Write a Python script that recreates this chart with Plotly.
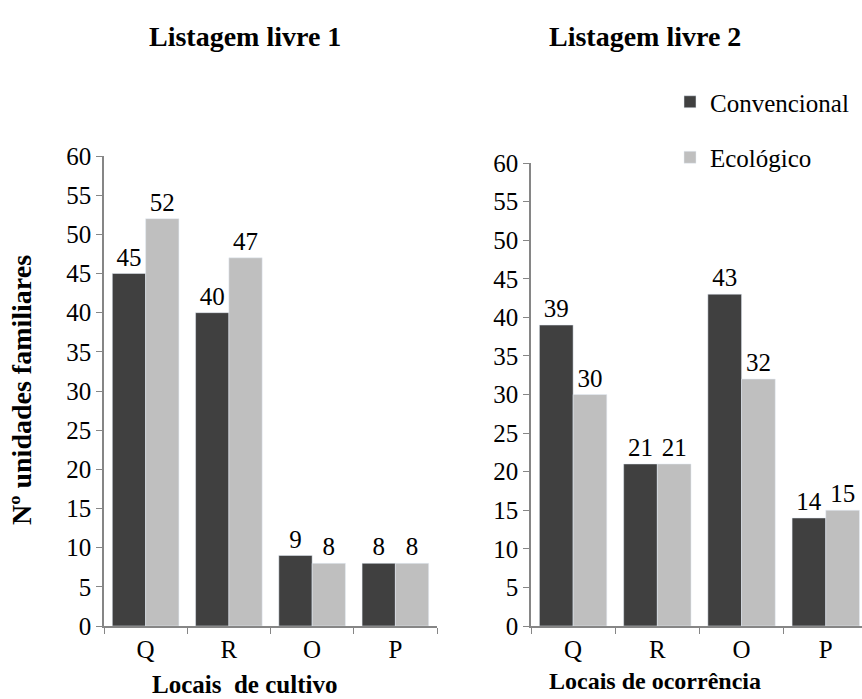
import plotly.graph_objects as go

categories = ["Q", "R", "O", "P"]
conv1 = [45, 40, 9, 8]
eco1 = [52, 47, 8, 8]
conv2 = [39, 21, 43, 14]
eco2 = [30, 21, 32, 15]
y_ticks = list(range(0, 61, 5))

DARK = "#404040"
LIGHT = "#BFBFBF"
AXIS = "#868686"
FONT = "Liberation Serif, Times New Roman, serif"
FS = 25

W, H = 862, 699

def px_x(p):
    return p / W

def px_y(p):
    return 1 - p / H

fig = go.Figure()

def add_bars(vals, name, color, xa, ya, show):
    fig.add_trace(go.Bar(
        x=categories, y=vals, name=name, marker_color=color,
        text=[str(v) for v in vals], textposition="outside",
        textfont=dict(family=FONT, size=FS, color="black"),
        cliponaxis=False, xaxis=xa, yaxis=ya, showlegend=show,
        legendgroup=name,
    ))

add_bars(conv1, "Convencional", DARK, "x", "y", True)
add_bars(eco1, "Ecológico", LIGHT, "x", "y", True)
add_bars(conv2, "Convencional", DARK, "x2", "y2", False)
add_bars(eco2, "Ecológico", LIGHT, "x2", "y2", False)

xcommon = dict(type="category", showline=True, linecolor=AXIS, linewidth=1.5,
               ticks="outside", tickson="boundaries", ticklen=6, tickcolor=AXIS,
               tickfont=dict(family=FONT, size=FS, color="black"),
               showgrid=False, zeroline=False, fixedrange=True, automargin=False)
ycommon = dict(range=[0, 60], tickvals=y_ticks, showline=True, linecolor=AXIS,
               linewidth=1.5, ticks="outside", ticklen=6, tickcolor=AXIS,
               tickfont=dict(family=FONT, size=FS, color="black"),
               showgrid=False, zeroline=False, fixedrange=True, automargin=False)

def txt(text, x, y, size, angle=0):
    return dict(text=text, x=px_x(x), y=px_y(y), xref="paper", yref="paper",
                xanchor="center", yanchor="middle", showarrow=False,
                textangle=angle, font=dict(family=FONT, size=size, color="black"))

fig.update_layout(
    width=W, height=H,
    margin=dict(l=0, r=0, t=0, b=0),
    paper_bgcolor="white", plot_bgcolor="white",
    barmode="group", bargap=0.2, bargroupgap=0,
    font=dict(family=FONT, color="black"),
    xaxis=dict(domain=[px_x(104), px_x(437)], anchor="y", range=[-0.5, 3.5], **xcommon),
    yaxis=dict(domain=[px_y(626), px_y(156)], anchor="x", **ycommon),
    xaxis2=dict(domain=[px_x(531), 1.0], anchor="y2", range=[-0.5, 3.43], **xcommon),
    yaxis2=dict(domain=[px_y(626), px_y(163)], anchor="x2", **ycommon),
    legend=dict(x=px_x(670), y=px_y(79), xanchor="left", yanchor="top",
                font=dict(family=FONT, size=FS, color="black"), bgcolor="rgba(0,0,0,0)",
                tracegroupgap=20, traceorder="grouped"),
    annotations=[
        txt("<b>Listagem livre 1</b>", 245, 36, 28),
        txt("<b>Listagem livre 2</b>", 645, 36, 28),
        txt("<b>Nº unidades familiares</b>", 22, 390, 28, -90),
        txt("<b>Locais\u00a0 de cultivo</b>", 244, 684, 25),
        txt("<b>Locais de ocorrência</b>", 655, 681, 24),
    ],
)

fig.write_html("out.html")
